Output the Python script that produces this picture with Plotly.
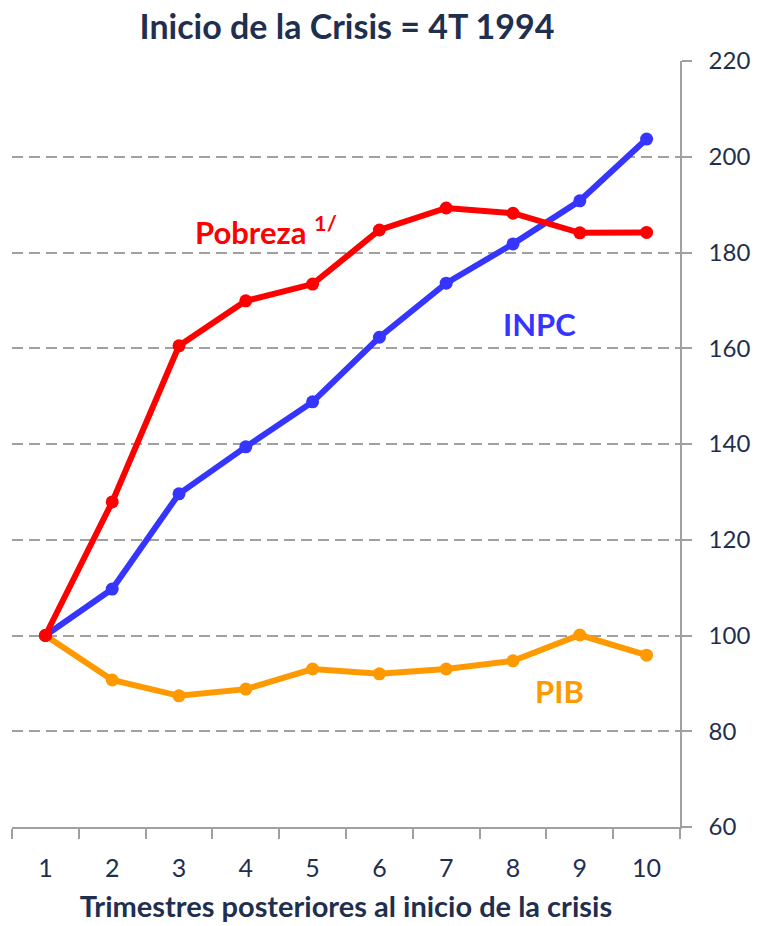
import plotly.graph_objects as go

trimestres = ["1", "2", "3", "4", "5", "6", "7", "8", "9", "10"]
inpc = [100, 109.7, 129.6, 139.4, 148.8, 162.3, 173.6, 181.8, 190.8, 203.7]
pobreza = [100, 127.9, 160.5, 169.9, 173.4, 184.7, 189.3, 188.2, 184.1, 184.2]
pib = [100, 90.7, 87.4, 88.8, 93.0, 92.0, 93.0, 94.7, 100.1, 95.9]
y_ticks = [60, 80, 100, 120, 140, 160, 180, 200, 220]

navy = "#1F2F4F"
font_family = "Lato, 'Open Sans', sans-serif"

fig = go.Figure()
for name, vals, col in [("PIB", pib, "#FF9900"), ("INPC", inpc, "#3535FF"), ("Pobreza", pobreza, "#FF0000")]:
    fig.add_trace(go.Scatter(x=trimestres, y=vals, mode="lines+markers", name=name,
                             line=dict(color=col, width=6),
                             marker=dict(color=col, size=13), showlegend=False))

fig.add_annotation(x=3.3, y=184.5, xref="x", yref="y", text="<b>Pobreza <sup>1/</sup></b>",
                   showarrow=False, font=dict(color="#FF0000", size=31, family=font_family))
fig.add_annotation(x=7.4, y=165, xref="x", yref="y", text="<b>INPC</b>",
                   showarrow=False, font=dict(color="#3535FF", size=31, family=font_family))
fig.add_annotation(x=7.7, y=88.5, xref="x", yref="y", text="<b>PIB</b>",
                   showarrow=False, font=dict(color="#FF9900", size=31, family=font_family))

fig.update_layout(
    width=761, height=926,
    margin=dict(l=12, r=81, t=61, b=99),
    paper_bgcolor="white", plot_bgcolor="white",
    title=dict(text="<b>Inicio de la Crisis = 4T 1994</b>", x=0.456, xanchor="center",
               y=0.971, yanchor="middle",
               font=dict(size=34, color=navy, family=font_family)),
    font=dict(family=font_family, color=navy),
    xaxis=dict(type="category", tickson="boundaries", ticks="outside", ticklen=10,
               tickcolor="#A0A0A0", tickwidth=1.5, showline=True, linecolor="#A0A0A0",
               linewidth=1.5, showgrid=False, range=[-0.5, 9.5], automargin=False,
               ticklabelstandoff=18,
               tickfont=dict(size=25, color=navy),
               title=dict(text="<b>Trimestres posteriores al inicio de la crisis</b>",
                          font=dict(size=29, color=navy), standoff=16)),
    yaxis=dict(side="right", range=[60, 220], tickvals=y_ticks, ticks="outside", ticklen=10,
               tickcolor="#A0A0A0", tickwidth=1.5, showline=True, linecolor="#A0A0A0",
               linewidth=1.5, showgrid=True, gridcolor="#A0A0A0", gridwidth=2,
               griddash="11px,6px", zeroline=False, ticklabelstandoff=12, automargin=False,
               tickfont=dict(size=24, color=navy)),
)

fig.write_html("out.html", config={"displayModeBar": False},
               post_script="document.body.style.margin='0';")
